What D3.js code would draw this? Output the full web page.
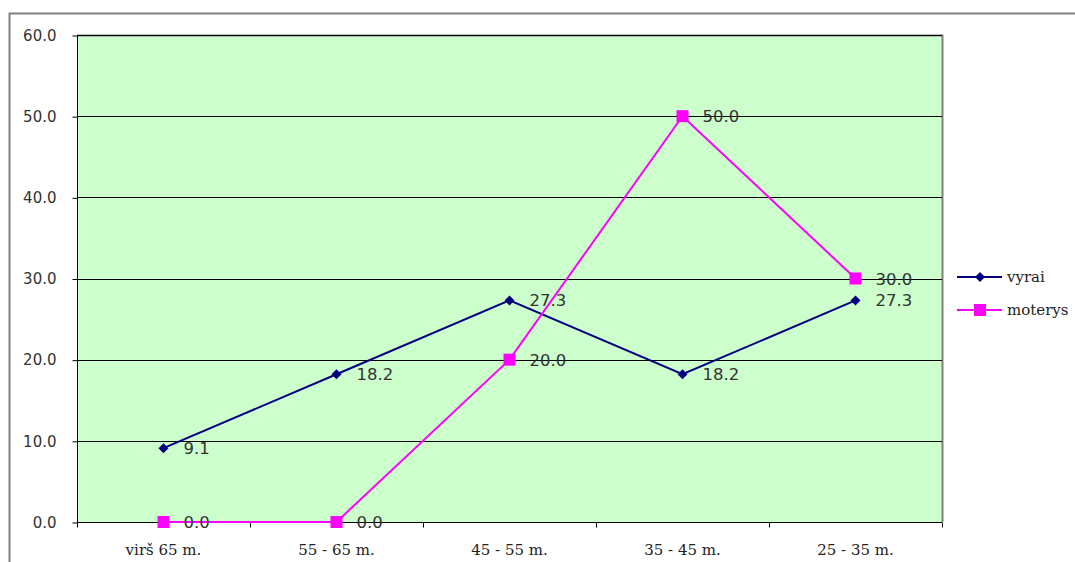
<!DOCTYPE html>
<html><head><meta charset="utf-8">
<script src="https://cdn.jsdelivr.net/npm/d3@7"></script>
<style>body{margin:0;background:#fff;} svg{display:block;}</style>
</head><body>
<svg id="c" width="1075" height="562"></svg>
<script>
const categories = ["virš 65 m.", "55 - 65 m.", "45 - 55 m.", "35 - 45 m.", "25 - 35 m."];
const vyrai = [9.1, 18.2, 27.3, 18.2, 27.3];
const moterys = [0.0, 0.0, 20.0, 50.0, 30.0];
const yTicks = [0, 10, 20, 30, 40, 50, 60];
const seriesNames = ["vyrai", "moterys"];

const svg = d3.select("#c");
const L = 77, R = 942, T = 35, B = 522;
const x = d3.scaleBand().domain(categories).range([L, R]);
const y = d3.scaleLinear().domain([0, 60]).range([B, T]);

// outer chart border
svg.append("path").attr("d", `M9.5,600 L9.5,13.5 L1080,13.5`).attr("fill","none").attr("stroke","#808080").attr("stroke-width",2);

// plot area
svg.append("rect").attr("x", L).attr("y", T).attr("width", R - L).attr("height", B - T).attr("fill", "#ccffcc");
svg.append("path").attr("d", `M${L},${T+0.5} L${R+0.5},${T+0.5} L${R+0.5},${B}`).attr("fill","none").attr("stroke","#808080").attr("stroke-width",2);

// gridlines
svg.append("g").selectAll("line").data(yTicks.slice(1)).join("line")
  .attr("x1", L).attr("x2", R).attr("y1", d => Math.round(y(d)) + 0.5).attr("y2", d => Math.round(y(d)) + 0.5)
  .attr("stroke", "#000").attr("stroke-width", 1);

// y axis
const yAxis = d3.axisLeft(y).tickValues(yTicks).tickFormat(d3.format(".1f")).tickSize(5).tickPadding(16);
const gy = svg.append("g").attr("transform", `translate(${L + 0.5},0.5)`).call(yAxis);
gy.select(".domain").attr("stroke", "#000").attr("d", `M0,${B - 0.5}V${T}`);
gy.selectAll(".tick line").attr("stroke", "#000");
gy.selectAll("text").attr("font-family", "DejaVu Sans, Verdana, sans-serif").attr("font-size", 15).attr("fill", "#333");

// x axis
const gx = svg.append("g").attr("transform", `translate(0,${B + 0.5})`);
gx.append("line").attr("x1", L).attr("x2", R).attr("stroke", "#000");
const bounds = d3.range(categories.length + 1).map(i => L + i * x.bandwidth());
gx.selectAll("line.tk").data(bounds).join("line").attr("class","tk")
  .attr("x1", d => Math.round(d) + 0.5).attr("x2", d => Math.round(d) + 0.5).attr("y1", 0).attr("y2", 5).attr("stroke", "#000");
gx.selectAll("text").data(categories).join("text")
  .attr("x", d => x(d) + x.bandwidth() / 2).attr("y", 32)
  .attr("text-anchor", "middle").attr("font-family", "DejaVu Serif, serif").attr("font-size", 15).attr("fill", "#222")
  .text(d => d);

const line = d3.line().x((d, i) => x(categories[i]) + x.bandwidth() / 2).y(d => y(d));

// vyrai
svg.append("path").datum(vyrai).attr("d", line).attr("fill", "none").attr("stroke", "#000080").attr("stroke-width", 2);
// moterys
svg.append("path").datum(moterys).attr("d", line).attr("fill", "none").attr("stroke", "#ff00ff").attr("stroke-width", 2);

svg.append("g").selectAll("path").data(vyrai).join("path")
  .attr("transform", (d, i) => `translate(${x(categories[i]) + x.bandwidth() / 2},${y(d)})`)
  .attr("d", "M0,-5L5,0L0,5L-5,0Z").attr("fill", "#000080");
svg.append("g").selectAll("rect").data(moterys).join("rect")
  .attr("x", (d, i) => x(categories[i]) + x.bandwidth() / 2 - 6).attr("y", d => y(d) - 6)
  .attr("width", 12).attr("height", 12).attr("fill", "#ff00ff");

// data labels
function labels(data) {
  svg.append("g").selectAll("text").data(data).join("text")
    .attr("x", (d, i) => x(categories[i]) + x.bandwidth() / 2 + 20).attr("y", d => y(d) + 6)
    .attr("font-family", "DejaVu Sans, Verdana, sans-serif").attr("font-size", 16.5).attr("fill", "#333")
    .text(d => d.toFixed(1));
}
labels(vyrai);
labels(moterys);

// legend
const lg = svg.append("g");
const ly = [277, 310];
const colors = ["#000080", "#ff00ff"];
seriesNames.forEach((n, i) => {
  lg.append("line").attr("x1", 957).attr("x2", 1002).attr("y1", ly[i]).attr("y2", ly[i]).attr("stroke", colors[i]).attr("stroke-width", 2);
  if (i === 0) lg.append("path").attr("transform", `translate(980,${ly[i]})`).attr("d", "M0,-5L5,0L0,5L-5,0Z").attr("fill", colors[i]);
  else lg.append("rect").attr("x", 974).attr("y", ly[i] - 6).attr("width", 12).attr("height", 12).attr("fill", colors[i]);
  lg.append("text").attr("x", 1007).attr("y", ly[i] + 5).attr("font-family", "DejaVu Serif, serif").attr("font-size", 15).attr("fill", "#222").text(n);
});
</script>
</body></html>
